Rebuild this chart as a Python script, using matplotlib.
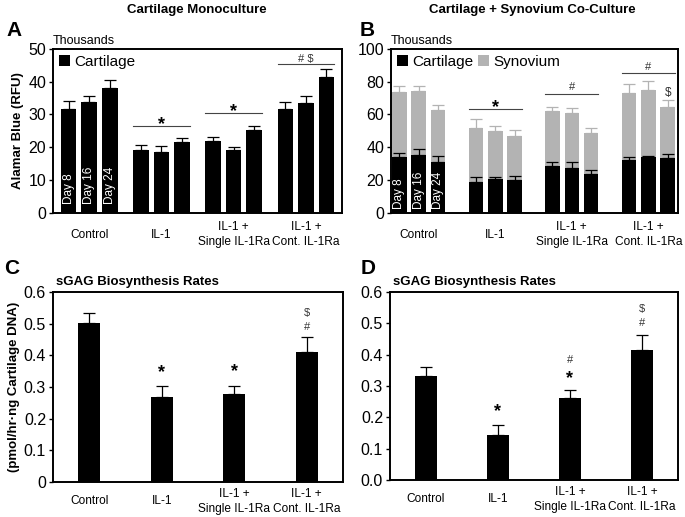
import numpy as np
import matplotlib
matplotlib.use("Agg")
import matplotlib.pyplot as plt

plt.rcParams["font.family"] = ["Liberation Sans", "DejaVu Sans"]

groups = ["Control", "IL-1", "IL-1 +\nSingle IL-1Ra", "IL-1 +\nCont. IL-1Ra"]
days = ["Day 8", "Day 16", "Day 24"]

# panel A, cartilage monoculture (thousands RFU)
a_cart = [[31.7, 33.9, 38.2], [19.1, 18.5, 21.5], [21.9, 19.0, 25.2], [31.7, 33.4, 41.3]]
a_err = [[2.4, 1.7, 2.3], [1.6, 1.9, 1.4], [1.1, 1.2, 1.4], [2.0, 2.2, 2.5]]

# panel B, co-culture, stacked
b_cart = [[33.8, 35.2, 31.2], [18.7, 20.4, 20.0], [28.5, 27.3, 23.8], [32.4, 33.8, 33.4]]
b_cart_err = [[2.9, 3.5, 3.6], [3.3, 1.4, 2.4], [2.3, 3.7, 2.5], [1.8, 0.8, 2.2]]
b_syn = [[39.7, 39.1, 31.3], [33.2, 29.7, 27.0], [33.6, 33.8, 25.1], [40.5, 40.9, 31.2]]
b_syn_err = [[4.1, 3.3, 3.1], [5.1, 3.1, 3.5], [2.5, 3.1, 2.8], [5.7, 6.0, 4.2]]

# panels C and D, sGAG rates
c_vals = [0.503, 0.270, 0.277, 0.410]
c_err = [0.031, 0.032, 0.027, 0.048]
d_vals = [0.333, 0.144, 0.262, 0.415]
d_err = [0.027, 0.030, 0.026, 0.047]

GRAY = "#b3b3b3"
ekw = dict(fmt="none", capsize=4.5, elinewidth=0.9, capthick=0.9)


def style(ax, pad):
    for s in ax.spines.values():
        s.set_linewidth(1.4)
    ax.tick_params(axis="y", direction="out", length=3, width=1, labelsize=11.5, pad=2)
    ax.tick_params(axis="x", length=0, labelsize=8.6, pad=pad)
    ax.set_xticks(range(4))
    ax.set_xticklabels(groups, va="center", linespacing=1.35)


def bracket(ax, x0, x1, y):
    ax.plot([x0, x1], [y, y], color="#444444", lw=0.8)


fig = plt.figure(figsize=(6.85, 5.17), dpi=100)
axA = fig.add_axes([0.0774, 0.5886, 0.4219, 0.3166])
axB = fig.add_axes([0.5708, 0.5886, 0.4190, 0.3166])
axC = fig.add_axes([0.0774, 0.0677, 0.4234, 0.3675])
axD = fig.add_axes([0.5693, 0.0716, 0.4204, 0.3636])

# ---- A
offA, wA = 0.285, 0.215
x = np.arange(4)
for i in range(3):
    xi = x + (i - 1) * offA
    vals = [g[i] for g in a_cart]
    errs = [g[i] for g in a_err]
    axA.bar(xi, vals, wA, color="black", label="Cartilage" if i == 0 else None)
    axA.errorbar(xi, vals, yerr=[np.zeros(4), errs], ecolor="black", **ekw)
    axA.text(xi[0], 2.6, days[i], rotation=90, color="white", fontsize=8.5,
             ha="center", va="bottom")
axA.set_xlim(-0.5, 3.5)
axA.set_ylim(0, 50)
axA.set_yticks(range(0, 51, 10))
style(axA, 16)
axA.set_ylabel("Alamar Blue (RFU)", fontsize=9.5, fontweight="bold", labelpad=3)
axA.text(0, 1.015, "Thousands", transform=axA.transAxes, fontsize=9, va="bottom")
axA.legend(loc="upper left", frameon=False, fontsize=11, handlelength=0.7,
           handleheight=0.7, handletextpad=0.3, borderaxespad=0.2, borderpad=0.2)
ext = offA + wA / 2
bracket(axA, 1 - ext, 1 + ext, 26.5)
bracket(axA, 2 - ext, 2 + ext, 30.5)
bracket(axA, 3 - ext, 3 + ext, 45.4)
axA.text(1, 25.6, "*", ha="center", va="baseline", fontsize=13, fontweight="bold")
axA.text(2, 29.6, "*", ha="center", va="baseline", fontsize=13, fontweight="bold")
axA.text(3, 46.9, "# $", ha="center", va="center", fontsize=8, color="#333333")

# ---- B
offB, wB = 0.254, 0.19
for i in range(3):
    xi = x + (i - 1) * offB
    cv = [g[i] for g in b_cart]
    ce = [g[i] for g in b_cart_err]
    sv = [g[i] for g in b_syn]
    se = [g[i] for g in b_syn_err]
    axB.bar(xi, cv, wB, color="black", label="Cartilage" if i == 0 else None)
    axB.bar(xi, sv, wB, bottom=cv, color=GRAY, label="Synovium" if i == 0 else None)
    tops = np.array(cv) + np.array(sv)
    axB.errorbar(xi, tops, yerr=[np.zeros(4), se], ecolor=GRAY, **ekw)
    axB.errorbar(xi, cv, yerr=[np.zeros(4), ce], ecolor="black", **ekw)
    axB.text(xi[0], 2.4, days[i], rotation=90, color="white", fontsize=8.5,
             ha="center", va="bottom")
axB.set_xlim(-0.362, 3.388)
axB.set_ylim(0, 100)
axB.set_yticks(range(0, 101, 20))
style(axB, 16)
axB.text(0, 1.015, "Thousands", transform=axB.transAxes, fontsize=9, va="bottom")
axB.legend(loc="upper left", frameon=False, fontsize=11, ncol=2, handlelength=0.7,
           handleheight=0.7, handletextpad=0.3, columnspacing=0.3,
           borderaxespad=0.2, borderpad=0.2)
ext = offB + wB / 2
bracket(axB, 1 - ext, 1 + ext, 63.3)
bracket(axB, 2 - ext, 2 + ext, 72.5)
bracket(axB, 3 - ext, 3 + ext, 85.1)
axB.text(1, 61.5, "*", ha="center", va="baseline", fontsize=13, fontweight="bold")
axB.text(2, 77, "#", ha="center", va="center", fontsize=8, color="#333333")
axB.text(3, 89.2, "#", ha="center", va="center", fontsize=8, color="#333333")
axB.text(3 + offB, 73.3, "$", ha="center", va="center", fontsize=8.5, color="#333333")

# ---- C and D
for ax, vals, errs, zero in [(axC, c_vals, c_err, "0"), (axD, d_vals, d_err, "0.0")]:
    ax.bar(x, vals, 0.3, color="black")
    ax.errorbar(x, vals, yerr=[np.zeros(4), errs], ecolor="black", **ekw)
    ax.set_xlim(-0.5, 3.5)
    ax.set_ylim(0, 0.6)
    ticks = np.arange(0, 0.61, 0.1)
    ax.set_yticks(ticks)
    ax.set_yticklabels([zero] + ["%.1f" % t for t in ticks[1:]])
    style(ax, 14)
    ax.text(0.01, 1.02, "sGAG Biosynthesis Rates", transform=ax.transAxes,
            fontsize=9.5, fontweight="bold", va="bottom")
axC.set_ylabel("(pmol/hr\u00b7ng Cartilage DNA)", fontsize=9.5, fontweight="bold", labelpad=3)

axC.text(1, 0.330, "*", ha="center", va="baseline", fontsize=13, fontweight="bold")
axC.text(2, 0.333, "*", ha="center", va="baseline", fontsize=13, fontweight="bold")
axC.text(3, 0.489, "#", ha="center", va="center", fontsize=8, color="#333333")
axC.text(3, 0.535, "$", ha="center", va="center", fontsize=8, color="#333333")

axD.text(1, 0.203, "*", ha="center", va="baseline", fontsize=13, fontweight="bold")
axD.text(2, 0.308, "*", ha="center", va="baseline", fontsize=13, fontweight="bold")
axD.text(2, 0.383, "#", ha="center", va="center", fontsize=8, color="#333333")
axD.text(3, 0.500, "#", ha="center", va="center", fontsize=8, color="#333333")
axD.text(3, 0.547, "$", ha="center", va="center", fontsize=8, color="#333333")

# titles and panel letters
fig.text(197 / 685, 1 - 10 / 517, "Cartilage Monoculture", ha="center", va="center",
         fontsize=9.5, fontweight="bold")
fig.text(532 / 685, 1 - 10 / 517, "Cartilage + Synovium Co-Culture", ha="center",
         va="center", fontsize=9.5, fontweight="bold")
for lab, px, py in [("A", 14, 30), ("B", 367, 30), ("C", 12, 268), ("D", 368, 268)]:
    fig.text(px / 685, 1 - py / 517, lab, ha="center", va="center", fontsize=15,
             fontweight="bold")

fig.savefig("out.png", dpi=100)
